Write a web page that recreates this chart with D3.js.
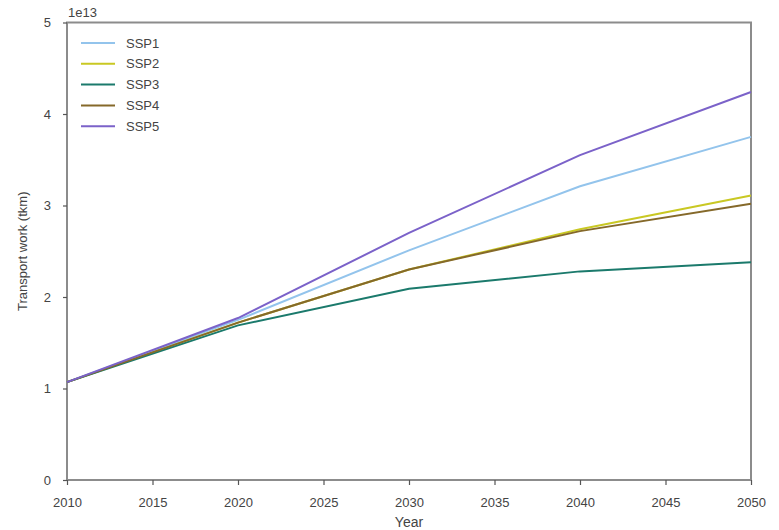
<!DOCTYPE html>
<html>
<head>
<meta charset="utf-8">
<script src="https://cdn.jsdelivr.net/npm/d3@7"></script>
<style>
  html, body { margin: 0; padding: 0; background: #fff; }
  svg { display: block; }
  text { font-family: "Liberation Sans", Arial, sans-serif; fill: #444; }
</style>
</head>
<body>
<svg id="chart" width="779" height="530"></svg>
<script>
// Transport work projections by shared socioeconomic pathway (units of 1e13 tkm)
const years = [2010, 2020, 2030, 2040, 2050];
const seriesNames = ["SSP1", "SSP2", "SSP3", "SSP4", "SSP5"];
const ssp1 = [1.07, 1.75, 2.51, 3.21, 3.75];
const ssp2 = [1.07, 1.72, 2.30, 2.74, 3.11];
const ssp3 = [1.07, 1.69, 2.09, 2.28, 2.38];
const ssp4 = [1.07, 1.72, 2.30, 2.72, 3.02];
const ssp5 = [1.07, 1.77, 2.70, 3.55, 4.24];
const seriesValues = [ssp1, ssp2, ssp3, ssp4, ssp5];
const seriesColors = ["#93c4ec", "#c9c823", "#1b7a6c", "#85692a", "#7b62c9"];
const xTicks = [2010, 2015, 2020, 2025, 2030, 2035, 2040, 2045, 2050];
const yTicks = [0, 1, 2, 3, 4, 5];

const svg = d3.select("#chart");
const margin = { left: 67, right: 28, top: 22.5, bottom: 50 };
const W = 779, H = 530;

const x = d3.scaleLinear().domain([2010, 2050]).range([margin.left, W - margin.right]);
const y = d3.scaleLinear().domain([0, 5]).range([H - margin.bottom, margin.top]);

// frame
const spine = "#8c8c8c";
svg.append("rect")
  .attr("x", x(2010)).attr("y", y(5))
  .attr("width", x(2050) - x(2010)).attr("height", y(0) - y(5))
  .attr("fill", "none").attr("stroke", spine).attr("stroke-width", 2);

// axes
const xAxis = svg.append("g")
  .attr("transform", `translate(0,${y(0)})`)
  .call(d3.axisBottom(x).tickValues(xTicks).tickFormat(d3.format("d")).tickSize(5).tickPadding(13));
const yAxis = svg.append("g")
  .attr("transform", `translate(${x(2010)},0)`)
  .call(d3.axisLeft(y).tickValues(yTicks).tickFormat(d3.format("d")).tickSize(4).tickPadding(12));
[xAxis, yAxis].forEach(g => {
  g.select(".domain").remove();
  g.selectAll(".tick line").attr("stroke", "#555").attr("stroke-width", 1.2);
  g.selectAll(".tick text").attr("font-size", 13).style("fill", "#444");
});

// lines
const line = d3.line().x((d, i) => x(years[i])).y(d => y(d));
seriesValues.forEach((vals, k) => {
  svg.append("path")
    .datum(vals)
    .attr("d", line)
    .attr("fill", "none")
    .attr("stroke", seriesColors[k])
    .attr("stroke-width", 2);
});

// legend
const legend = svg.append("g").attr("transform", "translate(81,43)");
seriesNames.forEach((name, k) => {
  const g = legend.append("g").attr("transform", `translate(0,${k * 20.8})`);
  g.append("line").attr("x1", 0).attr("x2", 34).attr("y1", 0).attr("y2", 0)
    .attr("stroke", seriesColors[k]).attr("stroke-width", 2);
  g.append("text").attr("x", 45).attr("y", 4.5).attr("font-size", 13).text(name);
});

// labels
svg.append("text").attr("x", 68).attr("y", 17).attr("font-size", 13).text("1e13");
svg.append("text").attr("x", (x(2010) + x(2050)) / 2).attr("y", 527)
  .attr("text-anchor", "middle").attr("font-size", 14).text("Year");
svg.append("text")
  .attr("transform", `translate(27,${(y(0) + y(5)) / 2}) rotate(-90)`)
  .attr("text-anchor", "middle").attr("font-size", 13).text("Transport work (tkm)");
</script>
</body>
</html>
